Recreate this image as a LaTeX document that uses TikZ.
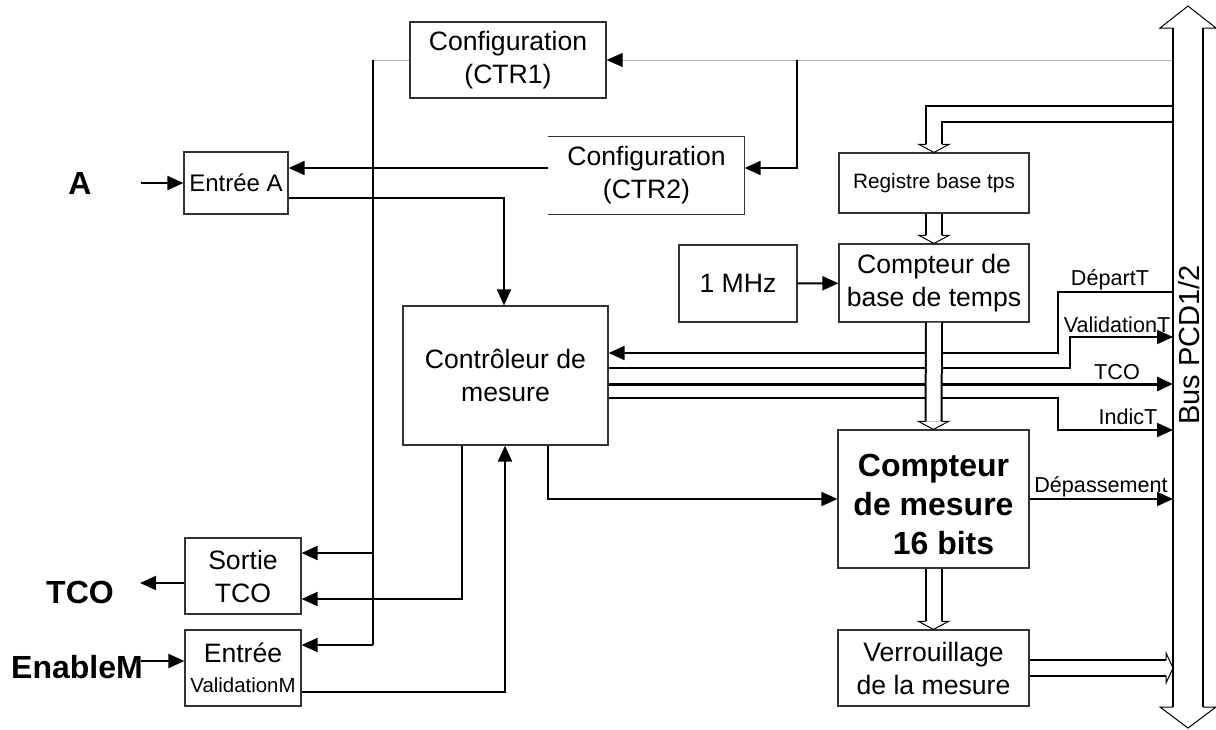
\documentclass[tikz,border=0pt]{standalone}
\usepackage{fontspec}
\setmainfont{Liberation Sans}
\usetikzlibrary{arrows.meta, calc}

\tikzset{
  box/.style={draw=black!80, line width=0.6pt, align=center, inner sep=0pt, font=\fontsize{13.3}{16.5}\selectfont},
  sig/.style={line width=1pt},
  feed/.style={draw=black!30, line width=0.5pt},
  pipe/.style={double, double distance=7pt, line width=1pt},
  lbl/.style={inner sep=0pt, font=\fontsize{10.8}{12}\selectfont},
  pin/.style={inner sep=0pt, font=\bfseries\fontsize{16}{19}\selectfont},
  headdown/.pic={\draw[line width=0.5pt] (-8,-8) -- (-15,-8) -- (0,0) -- (15,-8) -- (8,-8);},
  headright/.pic={\draw[line width=0.5pt] (-7,-8) -- (-7,-15) -- (0,0) -- (-7,15) -- (-7,8);}
}

\begin{document}
\begin{tikzpicture}[x=0.5pt, y=-0.5pt, >={Triangle[length=8pt,width=7pt]}, line join=miter]
\useasboundingbox (0,0) rectangle (1216,729);
% ---------- blocks ----------
\node[box, minimum width=98pt, minimum height=38pt] (ctr1) at (508,60) {Configuration\\(CTR1)};
\node[box, draw=none, minimum width=97.5pt, minimum height=38.5pt] (ctr2) at (646.5,175.5) {Configuration\\(CTR2)};
\draw[draw=black!80, line width=0.6pt] (ctr2.north west) -- (ctr2.north east) -- (ctr2.south east) -- (ctr2.south west);
\node[box, minimum width=52pt, minimum height=31pt, font=\fontsize{12}{14}\selectfont] (entA) at (236,183) {Entrée A};
\node[box, minimum width=102.5pt, minimum height=69.5pt] (ctrl) at (505.5,375.5) {Contrôleur de\\mesure};
\node[box, minimum width=95pt, minimum height=30pt, font=\fontsize{10.4}{12}\selectfont] (reg) at (934,183) {Registre base tps};
\node[box, minimum width=59pt, minimum height=38.5pt] (mhz) at (738,283.5) {1 MHz};
\node[box, minimum width=95pt, minimum height=39pt] (cbase) at (934,283) {Compteur de\\base de temps};
\node[box, minimum width=95.5pt, minimum height=69pt,
  label={[align=center, inner sep=0pt, yshift=-2.5pt, font=\bfseries\fontsize{16}{19.5}\selectfont]center:{Compteur\\de mesure\hspace*{8pt}\\\hspace*{10pt}16 bits}}] (cmes) at (933.5,499) {};
\node[box, minimum width=95.5pt, minimum height=38pt] (verr) at (933.5,668) {Verrouillage\\de la mesure};
\node[box, minimum width=58pt, minimum height=38pt] (sortie) at (243,576) {Sortie\\TCO};
\node[box, minimum width=58pt, minimum height=38pt, font=\fontsize{13.3}{15}\selectfont] (entV) at (243,668) {Entrée\\{\fontsize{10.2}{12}\selectfont ValidationM}};

% ---------- pins ----------
\node[pin] (pA) at (80,183) {A};
\node[pin] (pTCO) at (80,592) {TCO};
\node[pin] (pEn) at (77,667) {EnableM};
\coordinate (aIn) at (141,183);
\coordinate (tOut) at (140,583);
\coordinate (eIn) at (141,661);
\draw[sig,->] (aIn) -- (entA.west |- aIn);
\draw[sig,->] (sortie.west |- tOut) -- (tOut);
\draw[sig,->] (eIn) -- (entV.west |- eIn);

% ---------- junctions ----------
\coordinate (busL) at (1173,0);
\coordinate (j1) at (373,60);
\coordinate (j2) at (797,60);
\coordinate (jC) at (797,168);
\coordinate (jA) at (504,198);
\coordinate (s1) at (373,553);
\coordinate (v1) at (373,645);
\coordinate (s2) at (462,599);
\coordinate (v2) at (505,692);
\coordinate (c3) at (548,499);
\coordinate (d1t) at (1058,292);
\coordinate (d1) at (1058,353);
\coordinate (d2t) at (1070,337);
\coordinate (d2) at (1070,368);
\coordinate (d3) at (1173,384);
\coordinate (d4) at (1058,398);
\coordinate (d4b) at (1058,430);
\coordinate (dep) at (1173,499);
\coordinate (rIn) at (1173,114);

% ---------- configuration feed ----------
\draw[feed] (j1) -- (ctr1.west);
\draw[feed, -{Triangle[length=8pt,width=7pt,color=black]}] (busL |- j1) -- (ctr1.east);
\draw[sig,->] (j2) -- (jC) -- (ctr2.east |- jC);
\draw[sig,->] (ctr2.west |- jC) -- (entA.east |- jC);
\draw[sig] (j1) -- (v1);
\draw[sig,->] (s1) -- (sortie.east |- s1);
\draw[sig,->] (v1) -- (entV.east |- v1);

% ---------- controller ----------
\draw[sig,->] (entA.east |- jA) -- (jA) -- (jA |- ctrl.north);
\draw[sig,->] (ctrl.south -| s2) -- (s2) -- (sortie.east |- s2);
\draw[sig,->] (entV.east |- v2) -- (v2) -- (ctrl.south -| v2);
\draw[sig,->] (ctrl.south -| c3) -- (c3) -- (cmes.west |- c3);
\draw[sig,->] (mhz) -- (cbase);

% ---------- bus signals ----------
\draw[sig,->] (busL |- d1t) -- (d1t) -- (d1) -- (ctrl.east |- d1);
\draw[sig,->] (ctrl.east |- d2) -- (d2) -- (d2t) -- (busL |- d2t);
\draw[line width=1.5pt,->] (ctrl.east |- d3) -- (d3);
\draw[sig,->] (ctrl.east |- d4) -- (d4) -- (d4b) -- (busL |- d4b);
\draw[sig,->] (cmes.east |- dep) -- (dep);
\node[lbl] (lDep) at (1110,280) {DépartT};
\node[lbl] (lVal) at (1117,325) {ValidationT};
\node[lbl] (lTco) at (1117,372) {TCO};
\node[lbl] (lInd) at (1128,417) {IndicT};
\node[lbl] (lDpa) at (1101,487) {Dépassement};

% ---------- data paths ----------
\draw[pipe] (rIn) -| ($(reg.north)+(0,-8)$);
\pic at (reg.north) {headdown};
\draw[pipe] (reg.south) -- ($(cbase.north)+(0,-8)$);
\pic at (cbase.north) {headdown};
\draw[pipe] (cbase.south) -- ($(cmes.north)+(0,-8)$);
\pic at (cmes.north) {headdown};
\draw[pipe] (cmes.south) -- ($(verr.north)+(0,-8)$);
\pic at (verr.north) {headdown};
\draw[pipe] (verr.east) -- ($(busL |- verr.east)+(-7,0)$);
\pic at (busL |- verr.east) {headright};

% ---------- bus ----------
\draw[sig] (1173,28) -- (1173,707);
\draw[sig] (1203,28) -- (1203,707);
\draw[line width=0.5pt] (1173,28) -- (1160,28) -- (1188,6) -- (1216,28) -- (1203,28);
\draw[line width=0.5pt] (1173,707) -- (1160,707) -- (1188,728) -- (1216,707) -- (1203,707);
\node[rotate=90, inner sep=0pt, font=\fontsize{14.5}{16}\selectfont] (busname) at (1189,345) {Bus PCD1/2};
\end{tikzpicture}
\end{document}
